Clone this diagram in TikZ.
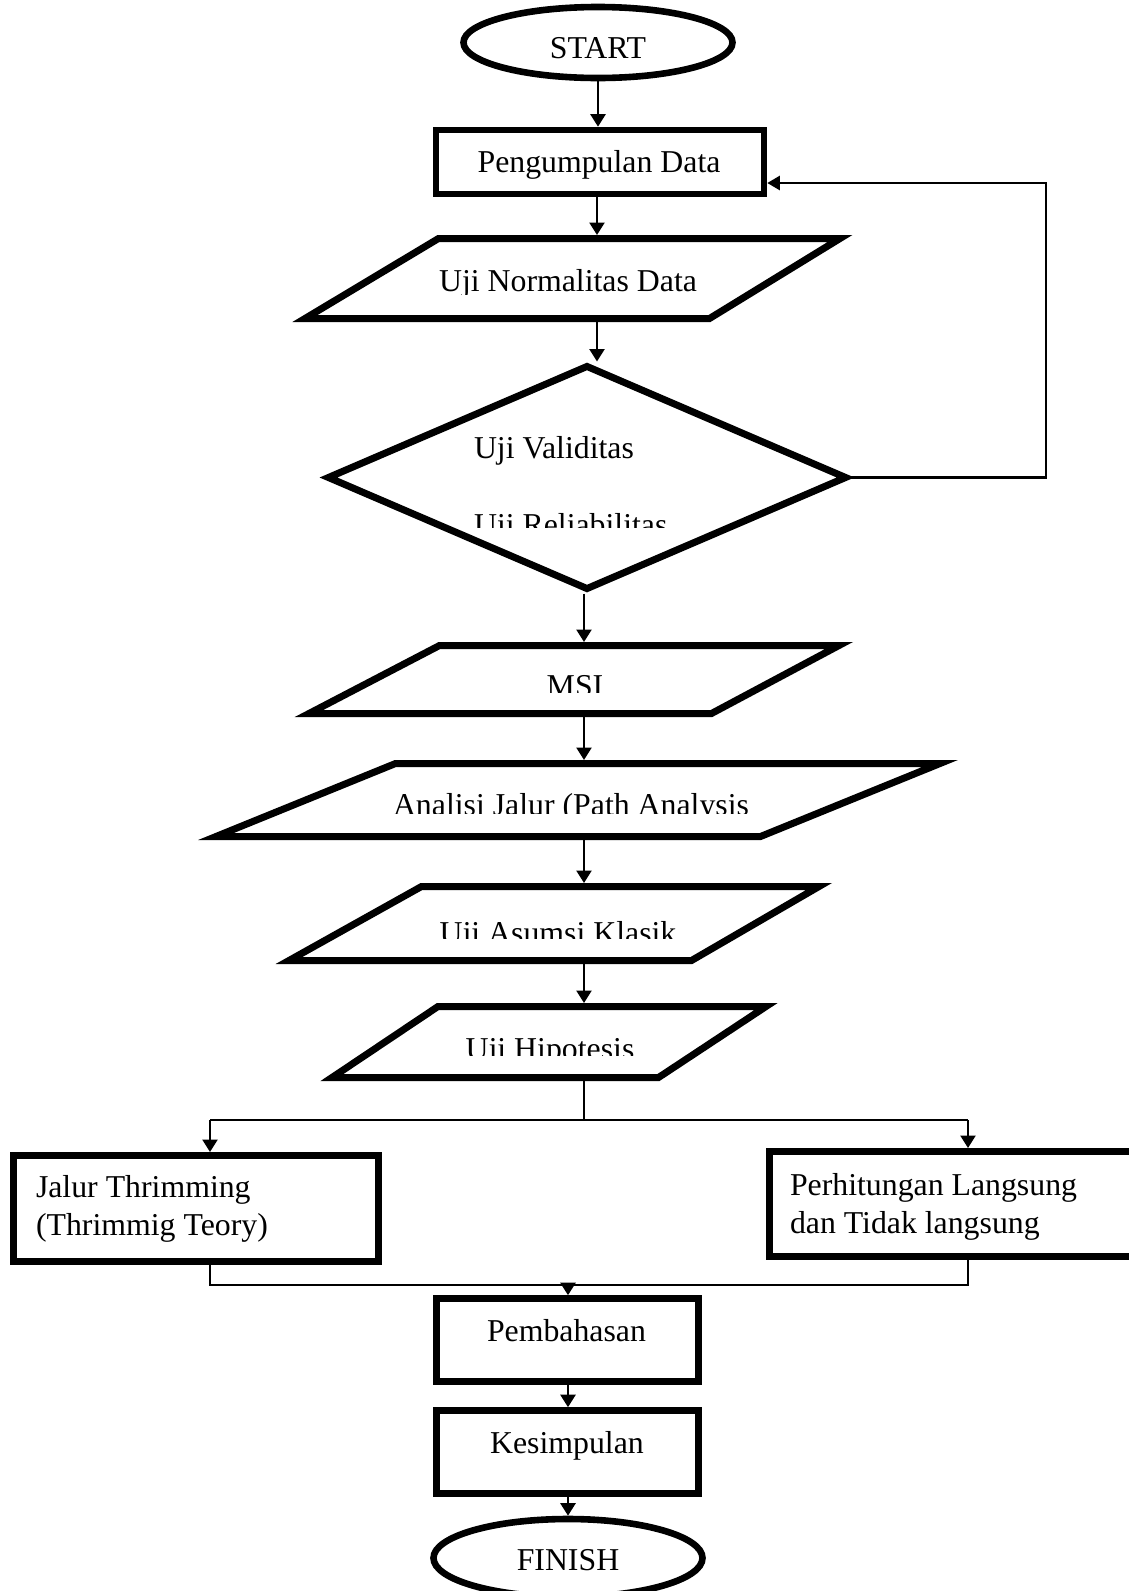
\documentclass[tikz,border=0pt]{standalone}
\usepackage{fontspec}
\setmainfont{Liberation Serif}
\usetikzlibrary{shapes.geometric,arrows.meta}
\begin{document}
\begin{tikzpicture}[x=0.5pt,y=-0.5pt,
  txt/.style={font=\fontsize{15.9pt}{19pt}\selectfont, anchor=base, inner sep=0pt, outer sep=0pt},
  txtl/.style={txt, anchor=base west},
  term/.style={ellipse, draw, line width=3.3pt, minimum width=134.5pt, minimum height=35.5pt, inner sep=0pt},
  procbox/.style={rectangle, draw, line width=3.3pt, inner sep=0pt},
  ioshape/.style={draw, line width=3.5pt, line join=miter},
  arr/.style={line width=1.2pt, -{Triangle[length=6.25pt,width=7.5pt]}},
  thinln/.style={line width=0.7pt},
  fbln/.style={line width=1.2pt}
]
\clip (0,0) rectangle (1129,1591);
\fill[white] (0,0) rectangle (1129,1591);

% START
\node[term] (start) at (598,42.5) {};
\node[txt] (starttxt) at (598,58.3) {START};
% Pengumpulan Data
\node[procbox, minimum width=164pt, minimum height=32pt] (peng) at (600,162) {};
\node[txt] (pengtxt) at (599,172.5) {Pengumpulan Data};
% Uji Normalitas Data
\draw[ioshape] (438.5,238.5) -- (840,238.5) -- (709.5,318.5) -- (305,318.5) -- cycle;
\coordinate (normT) at (597,235);
\coordinate (normB) at (597,322);
\begin{scope}
\clip (300,242) rectangle (850,294);
\node[txt] (normtxt) at (568,291) {Uji Normalitas Data};
\end{scope}
% Diamond
\node[diamond, ioshape, minimum width=260pt, minimum height=112.5pt, inner sep=0pt] (dia) at (587,477.5) {};
\node[txtl] (validtxt) at (474,458.3) {Uji Validitas};
\begin{scope}
\clip (400,495) rectangle (800,527);
\node[txtl] (reliatxt) at (474,535) {Uji Reliabilitas};
\end{scope}
% MSI
\draw[ioshape] (439.5,645.5) -- (839,645.5) -- (711.5,713.5) -- (309,713.5) -- cycle;
\coordinate (msiT) at (584,642);
\coordinate (msiB) at (584,717);
\begin{scope}
\clip (300,650) rectangle (850,692.5);
\node[txt] (msitxt) at (575,696) {MSI};
\end{scope}
% Analisi Jalur
\draw[ioshape] (395.5,763.5) -- (940,763.5) -- (760.5,836.5) -- (216,836.5) -- cycle;
\coordinate (anT) at (584,760);
\coordinate (anB) at (584,840);
\begin{scope}
\clip (250,770) rectangle (900,813.3);
\node[txt] (antxt) at (571,815) {Analisi Jalur (Path Analysis};
\end{scope}
% Uji Asumsi Klasik
\draw[ioshape] (421.5,886.5) -- (819,886.5) -- (691.5,960.5) -- (289,960.5) -- cycle;
\coordinate (asT) at (584,883);
\coordinate (asB) at (584,964);
\begin{scope}
\clip (300,892) rectangle (820,938);
\node[txt] (astxt) at (558,943) {Uji Asumsi Klasik};
\end{scope}
% Uji Hipotesis
\draw[ioshape] (438,1006.5) -- (766,1006.5) -- (658.5,1077.5) -- (332,1077.5) -- cycle;
\coordinate (hiT) at (584,1003);
\coordinate (hiB) at (584,1081);
\begin{scope}
\clip (340,1010) rectangle (760,1055);
\node[txt] (hitxt) at (550,1059.5) {Uji Hipotesis};
\end{scope}
% Jalur Thrimming
\node[procbox, line width=3.5pt, minimum width=182.5pt, minimum height=53pt] (jalur) at (196,1208.5) {};
\node[txtl] (jalur1) at (36,1197.3) {Jalur Thrimming};
\node[txtl] (jalur2) at (36,1235) {(Thrimmig Teory)};
% Perhitungan
\node[procbox, line width=3.5pt, minimum width=183.25pt, minimum height=52.5pt] (perh) at (952.75,1204) {};
\node[txtl] (perh1) at (790,1195.5) {Perhitungan Langsung};
\node[txtl] (perh2) at (790,1233.5) {dan Tidak langsung};
% Pembahasan
\node[procbox, minimum width=131pt, minimum height=41.5pt] (pemb) at (567.5,1340) {};
\node[txt] (pembtxt) at (566.5,1341.7) {Pembahasan};
% Kesimpulan
\node[procbox, minimum width=131pt, minimum height=41.5pt] (kes) at (567.5,1452) {};
\node[txt] (kestxt) at (567,1453) {Kesimpulan};
% FINISH
\node[term, minimum height=39pt] (finish) at (568,1558) {};
\node[txt] (fintxt) at (568,1570.5) {FINISH};

% connectors
\draw[arr] (start.south) -- (start.south |- peng.north);
\draw[arr] (peng.south -| normT) -- (normT);
\draw[arr] (normB) -- (normB |- dia.north);
\draw[arr] (dia.south -| msiT) -- (msiT);
\draw[arr] (msiB) -- (anT);
\draw[arr] (anB) -- (asT);
\draw[arr] (asB) -- (hiT);
\coordinate (spC) at (584,1120);
\coordinate (spL) at (210,1120);
\coordinate (spR) at (968,1120);
\draw[thinln] (hiB) -- (spC);
\draw[thinln] (spL) -- (spR);
\draw[arr] (spL) -- (spL |- jalur.north);
\draw[arr] (spR) -- (spR |- perh.north);
\coordinate (mL) at (210,1285);
\coordinate (mR) at (968,1285);
\coordinate (mC) at (568,1285);
\draw[thinln] (mL |- jalur.south) -- (mL) -- (mR) -- (mR |- perh.south);
\draw[arr] (mC) -- (mC |- pemb.north);
\draw[arr] (pemb.south -| mC) -- (mC |- kes.north);
\draw[arr] (kes.south -| mC) -- (mC |- finish.north);
% feedback loop
\coordinate (fb2) at (1046,183);
\draw[fbln, -{Triangle[length=6.25pt,width=7pt]}] (dia.east) -- (dia.east -| fb2) -- (fb2) -- (peng.east |- fb2);
\end{tikzpicture}
\end{document}
